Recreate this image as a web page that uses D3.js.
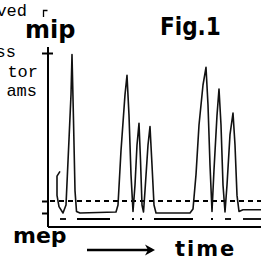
<!DOCTYPE html>
<html>
<head>
<meta charset="utf-8">
<script src="https://cdn.jsdelivr.net/npm/d3@7"></script>
<style>
  html, body { margin: 0; padding: 0; background: #fff; }
  svg { display: block; }
</style>
</head>
<body>
<svg id="chart" width="261" height="260"></svg>
<script>
// Pressure trace: time (arbitrary units) and pressure (mep = 0, mip = 100)
const traceTime = [12, 9, 9, 11, 15, 18, 21, 23, 24, 25.5, 27, 28.5, 32, 68, 70, 73, 77, 79, 81, 83, 85,
  87, 89, 91, 92.5, 94, 95.5, 97, 100, 102, 104, 106, 108, 142, 145, 148, 151, 155, 158, 160, 162, 164,
  166, 169, 171, 173, 175, 177, 179, 182, 185, 187, 189, 191, 195, 213]
const tracePressure = [26, 23, 11, 4, 0, 5, 46, 74, 99, 58, 14, 1, 0, 0.6, 5, 39, 74, 86, 61, 24, 1,
  17.5, 42.5, 56, 33, 5, 0.6, 14, 42.5, 54, 30, 5, 0, 0, 2.5, 24, 55, 80, 91, 67.5, 30, 1,
  27, 61, 77.5, 55, 17.5, 0.6, 17.5, 49, 62.5, 42.5, 11, 1, 2, 2]

// Reference levels
const tickLevels = [100, 7.5, 0]
const thresholdLevel = 7.5
const lowerLevel = -3.75
// Pieces of the dash-dot line under the trace
const lowerSegments = [[12, 18], [29, 62], [84, 86], [92, 94], [106, 145], [163, 165], [177, 183], [195, 213]]

// Typewriter text cut by the left edge
const sideText = ["ved", "ss", "tor", "ams"]

const svg = d3.select("#chart")

const x = d3.scaleLinear().domain([0, 213]).range([48, 261])
const y = d3.scaleLinear().domain([0, 100]).range([213, 53])

const traceData = traceTime.map((t, i) => ({ t, p: tracePressure[i] }))

// Axes frame
svg.append("line")
  .attr("x1", x(0)).attr("x2", x(0))
  .attr("y1", y(103.75)).attr("y2", y(-8.75))
  .attr("stroke", "#000").attr("stroke-width", 2)
svg.append("line")
  .attr("x1", x(0)).attr("x2", x(213))
  .attr("y1", y(-8.75)).attr("y2", y(-8.75))
  .attr("stroke", "#000").attr("stroke-width", 2)

// Left ticks
const axis = svg.append("g")
  .attr("transform", `translate(${x(0)},0)`)
  .call(d3.axisLeft(y).tickValues(tickLevels).tickSize(6).tickSizeOuter(0).tickFormat(""))
axis.select(".domain").remove()
axis.selectAll(".tick line").attr("stroke", "#000").attr("stroke-width", 2)
axis.selectAll(".tick").filter((d) => d === 100).select("line").attr("x1", 5)

// Dashed threshold line
svg.append("line")
  .attr("x1", x(2)).attr("x2", x(213))
  .attr("y1", y(thresholdLevel)).attr("y2", y(thresholdLevel))
  .attr("stroke", "#000").attr("stroke-width", 2)
  .attr("stroke-dasharray", "5,4")

// Lower dash-dot line
svg.selectAll(".lower")
  .data(lowerSegments)
  .enter()
  .append("line")
  .attr("class", "lower")
  .attr("x1", (d) => x(d[0])).attr("x2", (d) => x(d[1]))
  .attr("y1", y(lowerLevel)).attr("y2", y(lowerLevel))
  .attr("stroke", "#000").attr("stroke-width", 1.8)

// Pressure trace
const line = d3.line().x((d) => x(d.t)).y((d) => y(d.p))
svg.append("path")
  .datum(traceData)
  .attr("d", line)
  .attr("fill", "none")
  .attr("stroke", "#111")
  .attr("stroke-width", 1.6)
  .attr("stroke-linejoin", "round")

// Small corner mark near the top
svg.append("path")
  .attr("d", "M43.5,17V10.5H47.5")
  .attr("fill", "none").attr("stroke", "#000").attr("stroke-width", 1.3)

const sideY = [16, 57, 77, 96]
const sideEnd = [27, 16, 38, 37]
svg.selectAll(".side")
  .data(sideText)
  .enter()
  .append("text")
  .attr("class", "side")
  .attr("x", (d, i) => sideEnd[i])
  .attr("y", (d, i) => sideY[i])
  .attr("text-anchor", "end")
  .style("font-family", "'Liberation Mono', 'DejaVu Sans Mono', monospace")
  .style("font-size", "17px")
  .style("fill", "#000")
  .text((d) => d)

// Labels
svg.append("text")
  .attr("x", 25).attr("y", 38)
  .style("font-family", "'DejaVu Sans', sans-serif")
  .style("font-weight", "bold").style("font-size", "24px")
  .text("mip")
svg.append("text")
  .attr("x", 13).attr("y", 243)
  .style("font-family", "'DejaVu Sans', sans-serif")
  .style("font-weight", "bold").style("font-size", "22px")
  .text("mep")
svg.append("text")
  .attr("x", 160).attr("y", 35)
  .style("font-family", "'DejaVu Sans Condensed', 'DejaVu Sans', sans-serif")
  .style("font-weight", "bold").style("font-size", "24px")
  .text("Fig.1")
svg.append("text")
  .attr("x", 175).attr("y", 256)
  .style("font-family", "'DejaVu Sans', sans-serif")
  .style("font-weight", "bold").style("font-size", "21px")
  .style("letter-spacing", "2px")
  .text("time")

// Time arrow
svg.append("line")
  .attr("x1", 87).attr("x2", 152)
  .attr("y1", 250).attr("y2", 250)
  .attr("stroke", "#000").attr("stroke-width", 2.5)
svg.append("path")
  .attr("d", "M145,244.5L155,250L145,255.5L148,250Z")
  .attr("fill", "#000")
</script>
</body>
</html>
